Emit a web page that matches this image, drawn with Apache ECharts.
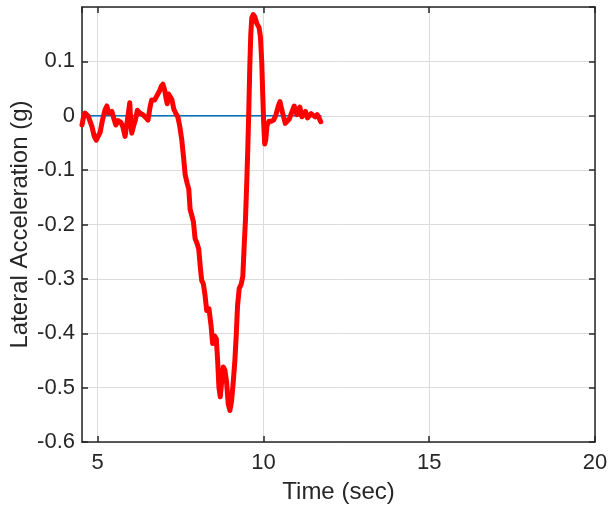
<!DOCTYPE html>
<html>
<head>
<meta charset="utf-8">
<script src="https://cdn.jsdelivr.net/npm/echarts@6/dist/echarts.min.js"></script>
<style>html,body{margin:0;padding:0;background:#fff}#c{width:608px;height:510px}</style>
</head>
<body>
<div id="c"></div>
<script>
// Lateral acceleration trace (red)
var timeSec = [4.53, 4.57, 4.62, 4.66, 4.72, 4.78, 4.83, 4.90, 4.96, 5.02, 5.08, 5.14, 5.22, 5.28, 5.33, 5.37, 5.43, 5.49, 5.55, 5.62, 5.70, 5.76, 5.83, 5.88, 5.94, 5.97, 6.00, 6.03, 6.08, 6.14, 6.20, 6.26, 6.36, 6.45, 6.52, 6.58, 6.63, 6.72, 6.80, 6.87, 6.92, 6.97, 7.02, 7.07, 7.10, 7.14, 7.18, 7.24, 7.30, 7.36, 7.42,
  7.48, 7.54, 7.59, 7.64, 7.70, 7.75, 7.79, 7.84, 7.89, 7.94, 8.00, 8.05, 8.10, 8.14, 8.19, 8.24, 8.29, 8.36, 8.42, 8.47, 8.53, 8.58, 8.62, 8.66, 8.70, 8.74, 8.79, 8.84, 8.89, 8.94, 8.99, 9.04, 9.09, 9.14, 9.18, 9.22, 9.27, 9.33, 9.38, 9.42, 9.46, 9.50, 9.53, 9.56, 9.59, 9.62, 9.65, 9.69, 9.74, 9.80, 9.87, 9.91, 9.95, 9.98,
  10.01, 10.04, 10.07, 10.11, 10.17, 10.24, 10.31, 10.38, 10.45, 10.50, 10.55, 10.60, 10.66, 10.72, 10.78, 10.86, 10.93, 10.97, 11.01, 11.06, 11.10, 11.16, 11.22, 11.27, 11.33, 11.38, 11.44, 11.50, 11.56, 11.62, 11.68, 11.73];
var accelG = [-0.017, -0.004, 0.005, 0.008, -0.001, -0.003, -0.020, -0.038, -0.045, -0.044, -0.030, -0.010, 0.010, 0.018, 0.005, 0.002, 0.008, -0.005, -0.017, -0.009, -0.012, -0.020, -0.038, -0.038, 0.010, 0.024, -0.010, -0.032, -0.020, -0.008, 0.010, 0.006, 0.002, -0.003, -0.008, 0.015, 0.029, 0.029, 0.038, 0.046, 0.054, 0.058, 0.048, 0.030, 0.022, 0.040, 0.043, 0.030, 0.012, 0.004, -0.002,
  -0.020, -0.045, -0.075, -0.108, -0.124, -0.135, -0.172, -0.183, -0.195, -0.226, -0.235, -0.245, -0.280, -0.303, -0.309, -0.330, -0.358, -0.355, -0.385, -0.419, -0.405, -0.410, -0.450, -0.500, -0.517, -0.490, -0.462, -0.468, -0.490, -0.530, -0.542, -0.525, -0.490, -0.450, -0.405, -0.350, -0.318, -0.310, -0.295, -0.240, -0.190, -0.120, -0.060, 0.010, 0.090, 0.150, 0.180, 0.186, 0.182, 0.170, 0.162, 0.145, 0.100, 0.040,
  -0.015, -0.052, -0.045, -0.018, -0.010, -0.010, -0.008, 0.002, 0.018, 0.026, 0.012, 0.000, -0.014, -0.012, -0.006, 0.007, 0.018, 0.020, 0.002, 0.012, 0.016, -0.002, 0.004, 0.008, -0.004, -0.004, 0.004, 0.002, -0.002, 0.002, -0.004, -0.011];
// Zero reference line (blue)
var refTime = [4.53, 11.75];
var refValue = [0, 0];
// Axes
var xMin = 4.53, xMax = 20;
var yMin = -0.6, yMax = 0.2, yStep = 0.1;

var traceData = timeSec.map(function (t, i) { return [t, accelG[i]]; });
var refData = refTime.map(function (t, i) { return [t, refValue[i]]; });

var ink = '#262626';
var font = 'Liberation Sans, Arial, Helvetica, sans-serif';
var chart = echarts.init(document.getElementById('c'), null, {renderer: 'canvas'});
chart.setOption({
  animation: false,
  backgroundColor: '#ffffff',
  grid: {left: 82, right: 13, top: 7, bottom: 68, containLabel: false, outerBoundsMode: 'none'},
  xAxis: [{
    type: 'value', min: xMin, max: xMax, splitNumber: 3,
    name: 'Time (sec)', nameLocation: 'middle', nameGap: 38, nameMoveOverlap: false,
    nameTextStyle: {color: ink, fontSize: 24, fontFamily: font},
    axisLine: {show: true, onZero: false, lineStyle: {color: ink, width: 1.5}},
    axisTick: {show: true, inside: true, length: 6, lineStyle: {color: ink, width: 1.5}},
    axisLabel: {color: ink, fontSize: 22, fontFamily: font, margin: 10, showMinLabel: false},
    splitLine: {show: true, lineStyle: {color: '#dcdcdc', width: 1}}
  }, {
    type: 'value', min: xMin, max: xMax, splitNumber: 3, position: 'top',
    axisLine: {show: true, onZero: false, lineStyle: {color: ink, width: 1.5}},
    axisTick: {show: true, inside: true, length: 6, lineStyle: {color: ink, width: 1.5}},
    axisLabel: {show: false}, splitLine: {show: false}
  }],
  yAxis: [{
    type: 'value', min: yMin, max: yMax, interval: yStep,
    name: 'Lateral Acceleration (g)', nameLocation: 'middle', nameGap: 50, nameMoveOverlap: false,
    nameTextStyle: {color: ink, fontSize: 24, fontFamily: font},
    axisLine: {show: true, onZero: false, lineStyle: {color: ink, width: 1.5}},
    axisTick: {show: true, inside: true, length: 6, lineStyle: {color: ink, width: 1.5}},
    axisLabel: {color: ink, fontSize: 22, fontFamily: font, margin: 7, showMaxLabel: false,
      formatter: function (v) { var r = Math.round(v * 10) / 10; return r === 0 ? '0' : String(r); }},
    splitLine: {show: true, lineStyle: {color: '#dcdcdc', width: 1}}
  }, {
    type: 'value', min: yMin, max: yMax, interval: yStep, position: 'right',
    axisLine: {show: true, onZero: false, lineStyle: {color: ink, width: 1.5}},
    axisTick: {show: true, inside: true, length: 6, lineStyle: {color: ink, width: 1.5}},
    axisLabel: {show: false}, splitLine: {show: false}
  }],
  series: [{
    type: 'line', data: refData, xAxisIndex: 0, yAxisIndex: 0,
    showSymbol: false, silent: true,
    lineStyle: {color: '#0072BD', width: 1.3}
  }, {
    type: 'line', data: traceData, xAxisIndex: 0, yAxisIndex: 0,
    showSymbol: false, silent: true,
    lineStyle: {color: '#ff0000', width: 5, cap: 'round', join: 'round'}
  }]
});
</script>
</body>
</html>
